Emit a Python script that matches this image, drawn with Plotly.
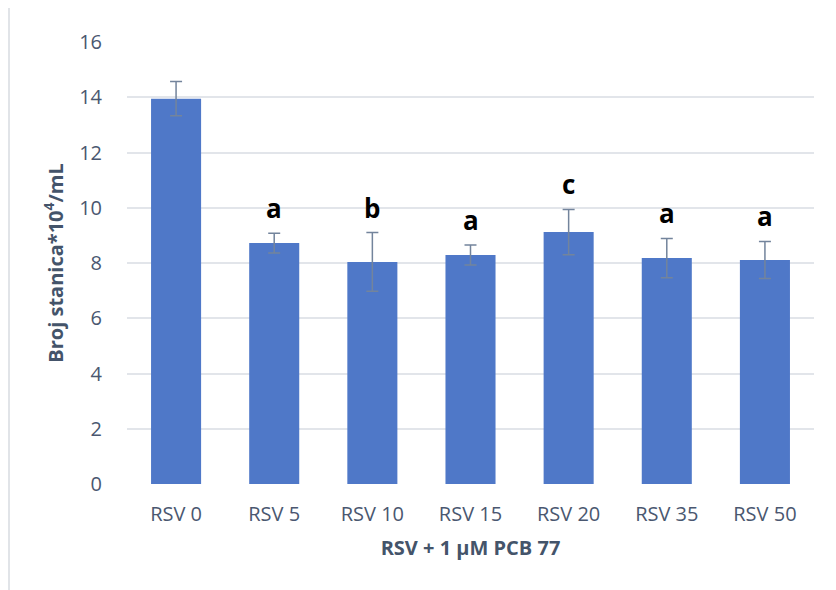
import plotly.graph_objects as go

categories = ["RSV 0", "RSV 5", "RSV 10", "RSV 15", "RSV 20", "RSV 35", "RSV 50"]
values = [13.95, 8.72, 8.04, 8.29, 9.12, 8.18, 8.11]
errors = [0.62, 0.36, 1.06, 0.36, 0.82, 0.71, 0.67]
letters = ["", "a", "b", "a", "c", "a", "a"]
y_ticks = [0, 2, 4, 6, 8, 10, 12, 14, 16]

font_family = "Open Sans, Noto Sans, sans-serif"
tick_color = "#4a5770"

fig = go.Figure()
fig.add_trace(go.Bar(
    x=categories,
    y=values,
    marker=dict(color="#4f78c8", line=dict(width=0)),
    error_y=dict(type="data", array=errors, visible=True,
                 color="#73849c", thickness=1.5, width=6),
    showlegend=False,
))

for cat, v, e, lab in zip(categories, values, errors, letters):
    if lab:
        fig.add_annotation(x=cat, y=v + e, text="<b>%s</b>" % lab,
                           showarrow=False, yanchor="bottom", yshift=5,
                           font=dict(family=font_family, size=26, color="#000000"))

fig.update_layout(
    width=828, height=582,
    margin=dict(l=119, r=22, t=34, b=106),
    paper_bgcolor="white", plot_bgcolor="white",
    bargap=0.49,
    font=dict(family=font_family, color=tick_color),
    xaxis=dict(
        showgrid=False, showline=False, zeroline=False,
        tickfont=dict(size=20, color=tick_color),
        ticks="", ticklabelstandoff=16,
        title=dict(text="<b>RSV + 1 µM PCB 77</b>",
                   font=dict(size=20, color="#44546a"), standoff=14),
    ),
    yaxis=dict(
        range=[0, 16], tickvals=y_ticks,
        showgrid=True, gridcolor="#e2e5ea", gridwidth=2,
        zeroline=False, showline=False, ticks="",
        tickfont=dict(size=20, color=tick_color),
        ticklabelstandoff=24,
        title=dict(text="<b>Broj stanica*10<sup>4</sup>/mL</b>",
                   font=dict(size=20, color="#44546a"), standoff=10),
    ),
    shapes=[dict(type="line", xref="paper", yref="paper",
                 x0=-0.1718, x1=-0.1718, y0=-0.3, y1=1.2,
                 line=dict(color="#e1e4e8", width=2))],
)

fig.write_html("out.html")
